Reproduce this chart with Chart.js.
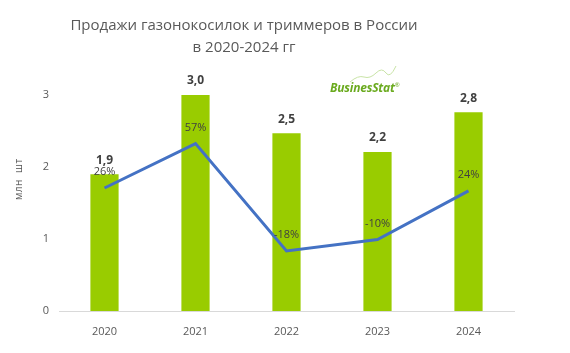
<!DOCTYPE html>
<html>
<head>
<meta charset="utf-8">
<script src="https://cdn.jsdelivr.net/npm/chart.js@4"></script>
<style>
    html, body { margin: 0; padding: 0; background: #fff; }
    .wrap { position: relative; width: 570px; height: 353px; }
    .title {
        position: absolute; left: 44px; top: 13px; width: 400px;
        text-align: center; font-family: 'Open Sans', sans-serif;
        font-size: 15px; line-height: 22px; color: #595959;
    }
    .logo {
        position: absolute; left: 330px; top: 79px;
        font-family: 'Open Sans', sans-serif; font-weight: bold; font-style: italic;
        font-size: 12px; color: #6aaa1e; letter-spacing: -0.2px;
    }
    .logo sup { font-size: 6px; font-weight: normal; }
    .swoosh { position: absolute; left: 340px; top: 62px; }
    .ytitle {
        position: absolute; left: -2px; top: 173px; width: 40px; text-align: center;
        transform: rotate(-90deg); font-family: 'Open Sans', sans-serif;
        font-size: 10px; line-height: 14px; color: #595959; letter-spacing: 0.5px;
    }
    canvas { position: absolute; left: 0; top: 0; }
</style>
</head>
<body>
<div class="wrap">
    <canvas id="salesChart" width="570" height="353"></canvas>
    <div class="title">Продажи газонокосилок и триммеров в России<br>в 2020-2024 гг</div>
    <svg class="swoosh" width="60" height="24">
        <path d="M10,20 Q18,13 24,15 T36,11 T46,11 T56,4" fill="none" stroke="#c8e3a6" stroke-width="1"/>
    </svg>
    <div class="logo">BusinesStat<sup>®</sup></div>
    <div class="ytitle">млн&nbsp;&nbsp;шт</div>
</div>
<script>
const years = ['2020', '2021', '2022', '2023', '2024'];
const sales = [1.9, 3.0, 2.47, 2.21, 2.76];
const salesLabels = ['1,9', '3,0', '2,5', '2,2', '2,8'];
const growth = [26, 57, -18, -10, 24];
const growthLabels = ['26%', '57%', '-18%', '-10%', '24%'];
const yTicks = [0, 1, 2, 3];

// подписи над столбцами и у точек линии
const labelsPlugin = {
    id: 'labelsPlugin',
    afterDatasetsDraw(chart) {
        const ctx = chart.ctx;
        ctx.save();
        ctx.textAlign = 'center';
        ctx.textBaseline = 'middle';
        ctx.fillStyle = '#404040';

        ctx.font = 'bold 12px "Open Sans", sans-serif';
        chart.getDatasetMeta(1).data.forEach((bar, i) => {
            ctx.fillText(salesLabels[i], bar.x, bar.y - 14);
        });

        ctx.font = '11px "Open Sans", sans-serif';
        chart.getDatasetMeta(0).data.forEach((pt, i) => {
            ctx.fillText(growthLabels[i], pt.x, pt.y - 16);
        });
        ctx.restore();
    }
};

const salesCtx = document.getElementById('salesChart');

new Chart(salesCtx, {
    type: 'bar',
    data: {
        labels: years,
        datasets: [
            {
                type: 'line',
                label: 'Прирост',
                data: growth,
                yAxisID: 'y1',
                borderColor: '#4472c4',
                borderWidth: 3,
                pointRadius: 0,
                tension: 0,
            },
            {
                label: 'Продажи',
                data: sales,
                backgroundColor: '#99cc00',
                barPercentage: 1,
                categoryPercentage: 0.31,
            }
        ]
    },
    options: {
        responsive: false,
        animation: false,
        layout: { padding: { top: 95, right: 56, left: 0, bottom: 0 } },
        plugins: {
            legend: { display: false },
            tooltip: { enabled: false },
        },
        scales: {
            x: {
                grid: { display: false },
                border: { color: '#d9d9d9', width: 1 },
                ticks: { color: '#595959', font: { size: 11, family: 'Open Sans' }, padding: 6 },
                afterFit: (s) => { s.height = 42; },
            },
            y: {
                min: 0,
                max: 3,
                afterBuildTicks: (s) => { s.ticks = yTicks.map(v => ({ value: v })); },
                grid: { display: false },
                border: { display: false },
                ticks: { color: '#595959', font: { size: 11, family: 'Open Sans' }, padding: 2 },
                afterFit: (s) => { s.width = 59; },
            },
            y1: {
                display: false,
                min: -60,
                max: 91,
            }
        }
    },
    plugins: [labelsPlugin]
});
</script>
</body>
</html>
